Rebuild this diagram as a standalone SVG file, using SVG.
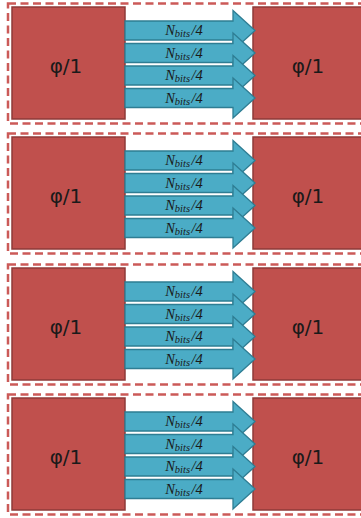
<svg xmlns="http://www.w3.org/2000/svg" width="361" height="518" viewBox="0 0 361 518">
<style>
.frame{fill:none;stroke:#CB5A58;stroke-width:2.5;stroke-dasharray:8 4.5}
.box{fill:#C0504D;stroke:#8E3A38;stroke-width:1.5}
.lbl{font-family:"DejaVu Sans",sans-serif;font-size:20px;fill:#1a1a1a;text-anchor:middle}
.arr{fill:#4BACC6;stroke:#2E7D93;stroke-width:1.3;stroke-linejoin:miter}
.al{font-family:"Liberation Serif",serif;font-style:italic;font-size:14.5px;fill:#1a1a1a;text-anchor:middle}
.sub{font-size:10.5px}
</style>
<defs>
<path id="ar" d="M125,-9.5 H233 V-20 L255,0 L233,20 V9.5 H125 Z"/>
</defs>

<!-- Panel 1 -->
<g id="panel1" transform="translate(0,0)">
<rect class="frame" x="8" y="3.5" width="370" height="120"/>
<g id="p1_left"><rect class="box" x="12" y="7" width="113" height="112"/><text class="lbl" x="66" y="73">φ/1</text></g>
<g id="p1_right"><rect class="box" x="253" y="7" width="120" height="112"/><text class="lbl" x="308" y="73">φ/1</text></g>
<g id="p1_links">
<use href="#ar" class="arr" y="30.5"/><text class="al" x="184" y="35">N<tspan class="sub" dy="2">bits</tspan><tspan dx="1.5" dy="-2">/4</tspan></text>
<use href="#ar" class="arr" y="53"/><text class="al" x="184" y="57.5">N<tspan class="sub" dy="2">bits</tspan><tspan dx="1.5" dy="-2">/4</tspan></text>
<use href="#ar" class="arr" y="75.5"/><text class="al" x="184" y="80">N<tspan class="sub" dy="2">bits</tspan><tspan dx="1.5" dy="-2">/4</tspan></text>
<use href="#ar" class="arr" y="98"/><text class="al" x="184" y="102.5">N<tspan class="sub" dy="2">bits</tspan><tspan dx="1.5" dy="-2">/4</tspan></text>
</g>
</g>

<!-- Panel 2 -->
<g id="panel2" transform="translate(0,130)">
<rect class="frame" x="8" y="3.5" width="370" height="120"/>
<g id="p2_left"><rect class="box" x="12" y="7" width="113" height="112"/><text class="lbl" x="66" y="73">φ/1</text></g>
<g id="p2_right"><rect class="box" x="253" y="7" width="120" height="112"/><text class="lbl" x="308" y="73">φ/1</text></g>
<g id="p2_links">
<use href="#ar" class="arr" y="30.5"/><text class="al" x="184" y="35">N<tspan class="sub" dy="2">bits</tspan><tspan dx="1.5" dy="-2">/4</tspan></text>
<use href="#ar" class="arr" y="53"/><text class="al" x="184" y="57.5">N<tspan class="sub" dy="2">bits</tspan><tspan dx="1.5" dy="-2">/4</tspan></text>
<use href="#ar" class="arr" y="75.5"/><text class="al" x="184" y="80">N<tspan class="sub" dy="2">bits</tspan><tspan dx="1.5" dy="-2">/4</tspan></text>
<use href="#ar" class="arr" y="98"/><text class="al" x="184" y="102.5">N<tspan class="sub" dy="2">bits</tspan><tspan dx="1.5" dy="-2">/4</tspan></text>
</g>
</g>

<!-- Panel 3 -->
<g id="panel3" transform="translate(0,261)">
<rect class="frame" x="8" y="3.5" width="370" height="120"/>
<g id="p3_left"><rect class="box" x="12" y="7" width="113" height="112"/><text class="lbl" x="66" y="73">φ/1</text></g>
<g id="p3_right"><rect class="box" x="253" y="7" width="120" height="112"/><text class="lbl" x="308" y="73">φ/1</text></g>
<g id="p3_links">
<use href="#ar" class="arr" y="30.5"/><text class="al" x="184" y="35">N<tspan class="sub" dy="2">bits</tspan><tspan dx="1.5" dy="-2">/4</tspan></text>
<use href="#ar" class="arr" y="53"/><text class="al" x="184" y="57.5">N<tspan class="sub" dy="2">bits</tspan><tspan dx="1.5" dy="-2">/4</tspan></text>
<use href="#ar" class="arr" y="75.5"/><text class="al" x="184" y="80">N<tspan class="sub" dy="2">bits</tspan><tspan dx="1.5" dy="-2">/4</tspan></text>
<use href="#ar" class="arr" y="98"/><text class="al" x="184" y="102.5">N<tspan class="sub" dy="2">bits</tspan><tspan dx="1.5" dy="-2">/4</tspan></text>
</g>
</g>

<!-- Panel 4 -->
<g id="panel4" transform="translate(0,391)">
<rect class="frame" x="8" y="3.5" width="370" height="120"/>
<g id="p4_left"><rect class="box" x="12" y="7" width="113" height="112"/><text class="lbl" x="66" y="73">φ/1</text></g>
<g id="p4_right"><rect class="box" x="253" y="7" width="120" height="112"/><text class="lbl" x="308" y="73">φ/1</text></g>
<g id="p4_links">
<use href="#ar" class="arr" y="30.5"/><text class="al" x="184" y="35">N<tspan class="sub" dy="2">bits</tspan><tspan dx="1.5" dy="-2">/4</tspan></text>
<use href="#ar" class="arr" y="53"/><text class="al" x="184" y="57.5">N<tspan class="sub" dy="2">bits</tspan><tspan dx="1.5" dy="-2">/4</tspan></text>
<use href="#ar" class="arr" y="75.5"/><text class="al" x="184" y="80">N<tspan class="sub" dy="2">bits</tspan><tspan dx="1.5" dy="-2">/4</tspan></text>
<use href="#ar" class="arr" y="98"/><text class="al" x="184" y="102.5">N<tspan class="sub" dy="2">bits</tspan><tspan dx="1.5" dy="-2">/4</tspan></text>
</g>
</g>
</svg>
